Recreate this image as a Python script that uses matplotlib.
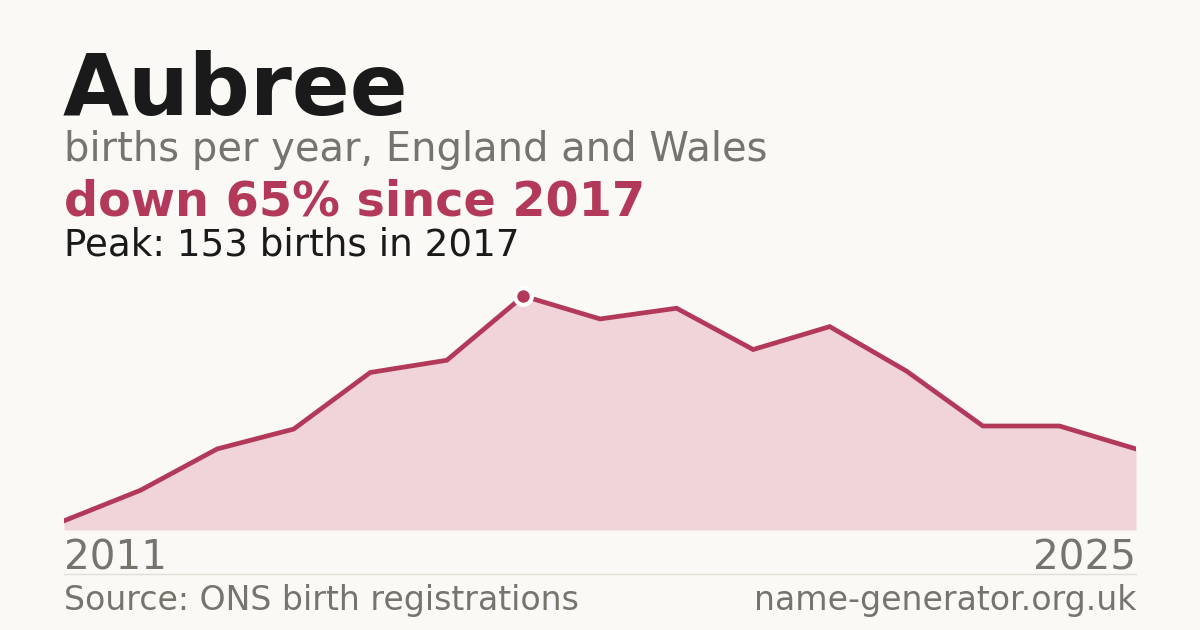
import matplotlib
matplotlib.use("Agg")
import matplotlib.pyplot as plt

# -------------------
# Data
# -------------------
years = [2011, 2012, 2013, 2014, 2015, 2016, 2017, 2018, 2019, 2020, 2021, 2022, 2023, 2024, 2025]
births = [6, 26, 53, 66, 103, 111, 153, 138, 145, 118, 133, 104, 68, 68, 53]

name = "Aubree"
subtitle = "births per year, England and Wales"
change_text = "down 65% since 2017"
peak_text = "Peak: 153 births in 2017"
source_text = "Source: ONS birth registrations"
site_text = "name-generator.org.uk"

# -------------------
# Colours
# -------------------
bg = "#faf9f5"
red = "#b3395a"
fill = "#f0d4da"
dark = "#1a1a1a"
grey = "#77736d"

W, H = 1200, 630
fig = plt.figure(figsize=(W / 100, H / 100), dpi=100, facecolor=bg)

def fx(px):
    return px / W

def fy(py):
    return 1 - py / H

# chart area: x 64..1136, baseline at y=530, peak at y=296
ax = fig.add_axes([fx(64), fy(530), fx(1136) - fx(64), (530 - 296) / H])
ax.set_facecolor("none")
ax.fill_between(years, births, 0, color=fill, lw=0)
ax.plot(years, births, color=red, lw=3.4, solid_joinstyle="miter")

peak_i = births.index(max(births))
ax.plot(years[peak_i], births[peak_i], "o", ms=12, color=red,
        mec="white", mew=3, clip_on=False, zorder=5)

ax.set_xlim(years[0], years[-1])
ax.set_ylim(0, max(births))
ax.axis("off")

# -------------------
# Texts
# -------------------
fig.text(fx(63), fy(115), name, fontsize=61.5, fontweight="bold", color=dark, va="baseline")
fig.text(fx(64), fy(161), subtitle, fontsize=28.8, color=grey, va="baseline")
fig.text(fx(64), fy(215), change_text, fontsize=34.4, fontweight="bold", color=red, va="baseline")
fig.text(fx(64), fy(255), peak_text, fontsize=26.8, color=dark, va="baseline")

fig.text(fx(64), fy(570), str(years[0]), fontsize=29.2, color=grey, va="baseline")
fig.text(fx(1136), fy(570), str(years[-1]), fontsize=29.2, color=grey, va="baseline", ha="right")

fig.add_artist(plt.Line2D([fx(64), fx(1136)], [fy(574), fy(574)], color="#e2ded6", lw=1))

fig.text(fx(64), fy(610), source_text, fontsize=23.9, color=grey, va="baseline")
fig.text(fx(1136), fy(610), site_text, fontsize=23.9, color=grey, va="baseline", ha="right")

fig.savefig("out.png", dpi=100, facecolor=bg)
